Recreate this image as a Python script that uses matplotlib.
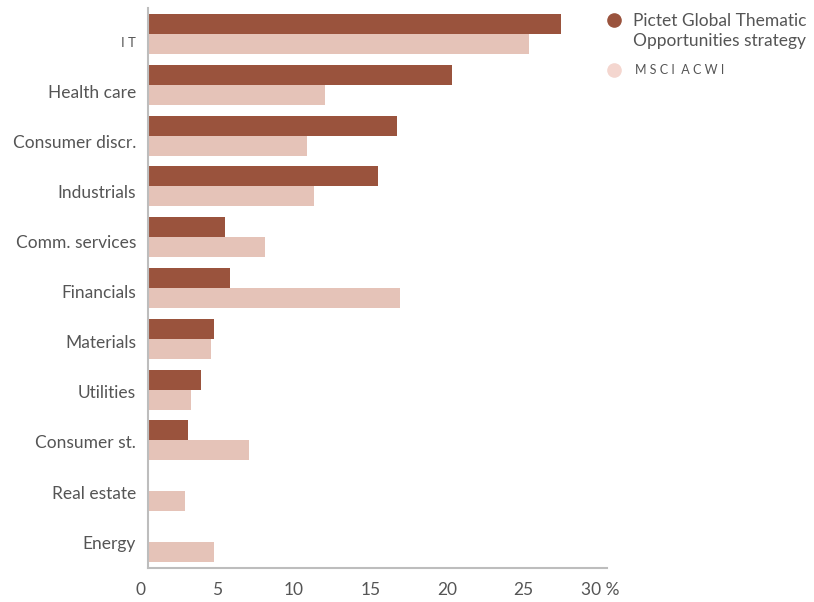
import matplotlib.pyplot as plt
from matplotlib.lines import Line2D
from matplotlib.transforms import ScaledTranslation, blended_transform_factory
import numpy as np

plt.rcParams["font.family"] = ["Lato", "DejaVu Sans"]

categories = ["IT", "Health care", "Consumer discr.", "Industrials", "Comm. services",
              "Financials", "Materials", "Utilities", "Consumer st.", "Real estate", "Energy"]
strategy = [27.0, 19.9, 16.3, 15.0, 5.0, 5.35, 4.3, 3.45, 2.6, 0.0, 0.0]
acwi = [24.9, 11.6, 10.4, 10.85, 7.65, 16.5, 4.1, 2.8, 6.6, 2.4, 4.3]
xticks = [0, 5, 10, 15, 20, 25, 30]
xticklabels = ["0", "5", "10", "15", "20", "25", "30 %"]

dark = "#9a533d"
light = "#e5c3b8"
text_col = "#555555"
spine_col = "#bdbdbd"

W, H = 814, 602
fig = plt.figure(figsize=(W / 100, H / 100), dpi=100)
ax = fig.add_axes([148 / W, (H - 568) / H, (607 - 148) / W, (568 - 8) / H])

y = np.arange(len(categories))
h = 0.394
ax.barh(y - h / 2, strategy, height=h, color=dark, linewidth=0)
ax.barh(y + h / 2, acwi, height=h, color=light, linewidth=0)

ax.set_xlim(0, 30)
ax.set_ylim(len(categories) - 0.49, -0.51)

# category labels sit a little below the bar-group centres in the original
ax.set_yticks(y * 0.985 + 0.15)
ax.set_yticklabels(["I T"] + categories[1:])
for i, t in enumerate(ax.get_yticklabels()):
    t.set_fontsize(9.5 if i == 0 else 12.5)
    t.set_color(text_col)

# x labels drawn as text, nudged left like in the original
ax.set_xticks(xticks)
ax.set_xticklabels([])
ax.tick_params(axis="both", length=0)
ax.tick_params(axis="y", pad=8.5)
trans = blended_transform_factory(ax.transData, ax.transAxes) + \
    ScaledTranslation(-7 / 100, -22 / 100, fig.dpi_scale_trans)
for xv, lab in zip(xticks, xticklabels):
    ax.text(xv, 0, lab, transform=trans, ha="center", va="center",
            fontsize=12.5, color=text_col)

for s in ["top", "right"]:
    ax.spines[s].set_visible(False)
for s in ["left", "bottom"]:
    ax.spines[s].set_color(spine_col)
    ax.spines[s].set_linewidth(1.5)

# legend drawn by hand
fig.add_artist(Line2D([614 / W], [1 - 20 / H], marker="o", markersize=9.5,
                      color=dark, linestyle="none", transform=fig.transFigure))
fig.add_artist(Line2D([614 / W], [1 - 70 / H], marker="o", markersize=9.5,
                      color="#f4d6cf", linestyle="none", transform=fig.transFigure))
fig.text(633 / W, 1 - 31 / H, "Pictet Global Thematic\nOpportunities strategy",
         fontsize=12.5, color=text_col, va="center", ha="left", linespacing=1.25)
fig.text(635 / W, 1 - 70 / H, "M S C I  A C W I", fontsize=9, color=text_col,
         va="center", ha="left")

fig.savefig("out.png", dpi=100)
